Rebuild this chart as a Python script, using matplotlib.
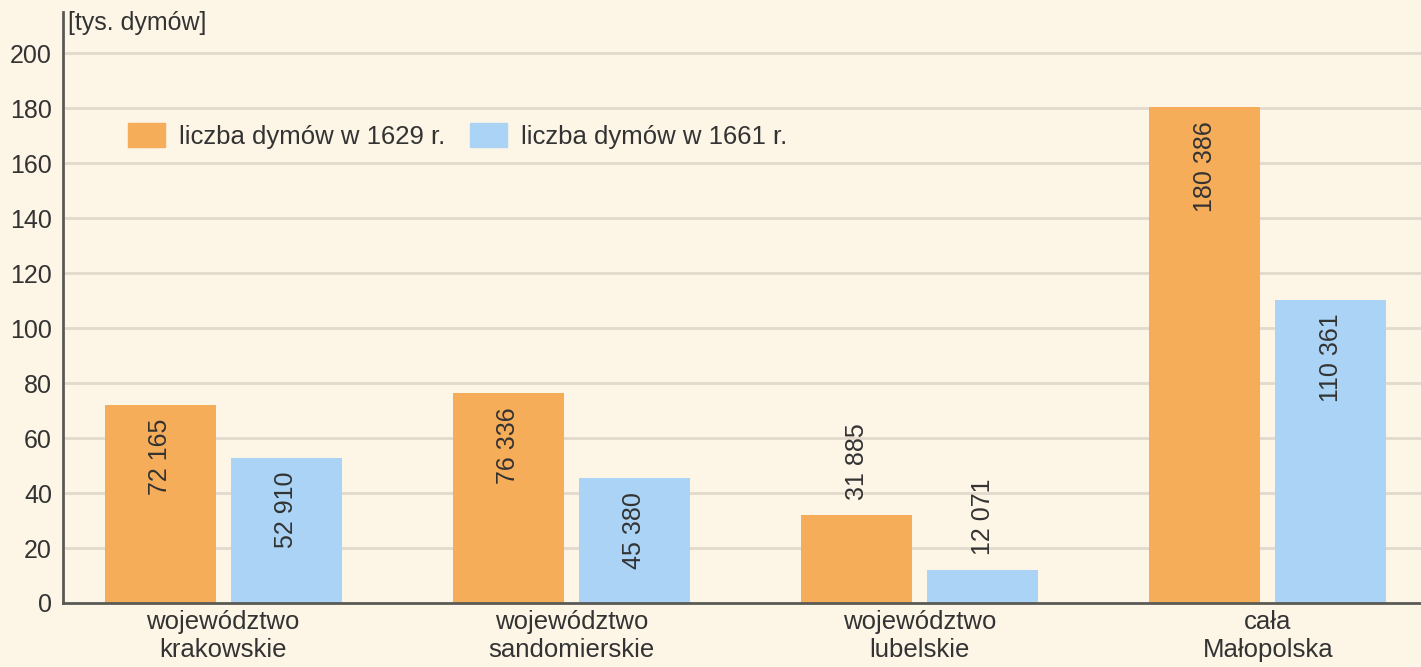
import numpy as np
import matplotlib.pyplot as plt
from matplotlib.patches import Patch

plt.rcParams['font.family'] = ['Liberation Sans', 'DejaVu Sans']

categories = ['województwo\nkrakowskie', 'województwo\nsandomierskie',
              'województwo\nlubelskie', 'cała\nMałopolska']
dymy_1629 = [72165, 76336, 31885, 180386]
dymy_1661 = [52910, 45380, 12071, 110361]
label_1629 = 'liczba dymów w 1629 r.'
label_1661 = 'liczba dymów w 1661 r.'

BG = '#fdf5e6'
ORANGE = '#f6ad5a'
BLUE = '#aad3f5'
TEXT = '#333333'
FS = 18

fig = plt.figure(figsize=(14.21, 6.67), dpi=100, facecolor=BG)
ax = fig.add_axes([63 / 1421, 64 / 667, 1 - 63 / 1421, 591 / 667])
ax.set_facecolor(BG)

x = np.arange(len(categories))
w = 0.319
off = 0.181
v1 = np.array(dymy_1629) / 1000
v2 = np.array(dymy_1661) / 1000
ax.bar(x - off, v1, w, color=ORANGE, zorder=2)
ax.bar(x + off, v2, w, color=BLUE, zorder=2)

def fmt(v):
    return f'{v:,}'.replace(',', ' ')

# value labels: inside the bar near its top, or above it for short bars
for xs, vals, raw in ((x - off, v1, dymy_1629), (x + off, v2, dymy_1661)):
    for xi, v, r in zip(xs, vals, raw):
        if v > 40:
            ax.text(xi, v - 5, fmt(r), rotation=90, ha='center', va='top',
                    fontsize=FS, color=TEXT, zorder=3)
        else:
            ax.text(xi, v + 5.5, fmt(r), rotation=90, ha='center', va='bottom',
                    fontsize=FS, color=TEXT, zorder=3)

ax.set_xlim(-0.46, 3.44)
ax.set_ylim(0, 215)
ax.set_yticks(range(0, 201, 20))
for yv in range(20, 201, 20):
    ax.axhline(yv, color='#e2dacd', lw=2, zorder=1)
ax.set_xticks(x)
ax.set_xticklabels(categories, fontsize=18.5, color=TEXT, linespacing=1.2)
ax.tick_params(axis='y', labelsize=FS)
ax.tick_params(axis='both', length=0, labelcolor=TEXT)
ax.tick_params(axis='x', pad=5)
ax.tick_params(axis='y', pad=8)

for s in ('top', 'right'):
    ax.spines[s].set_visible(False)
for s in ('left', 'bottom'):
    ax.spines[s].set_color('#5a5a55')
    ax.spines[s].set_linewidth(2)

fig.text(68 / 1421, 1 - 23 / 667, '[tys. dymów]', fontsize=FS, color=TEXT,
         va='center', ha='left')

# legend
handles = [Patch(color=ORANGE, label=label_1629), Patch(color=BLUE, label=label_1661)]
ax.legend(handles=handles, loc='center left', bbox_to_anchor=((128 - 63) / 1358, (603 - 136) / 591),
          ncol=2, frameon=False, fontsize=18.5, handlelength=1.45, handleheight=1.05,
          handletextpad=0.55, columnspacing=0.95, borderpad=0, borderaxespad=0,
          labelcolor=TEXT)

fig.savefig('out.png', dpi=100, facecolor=BG)
